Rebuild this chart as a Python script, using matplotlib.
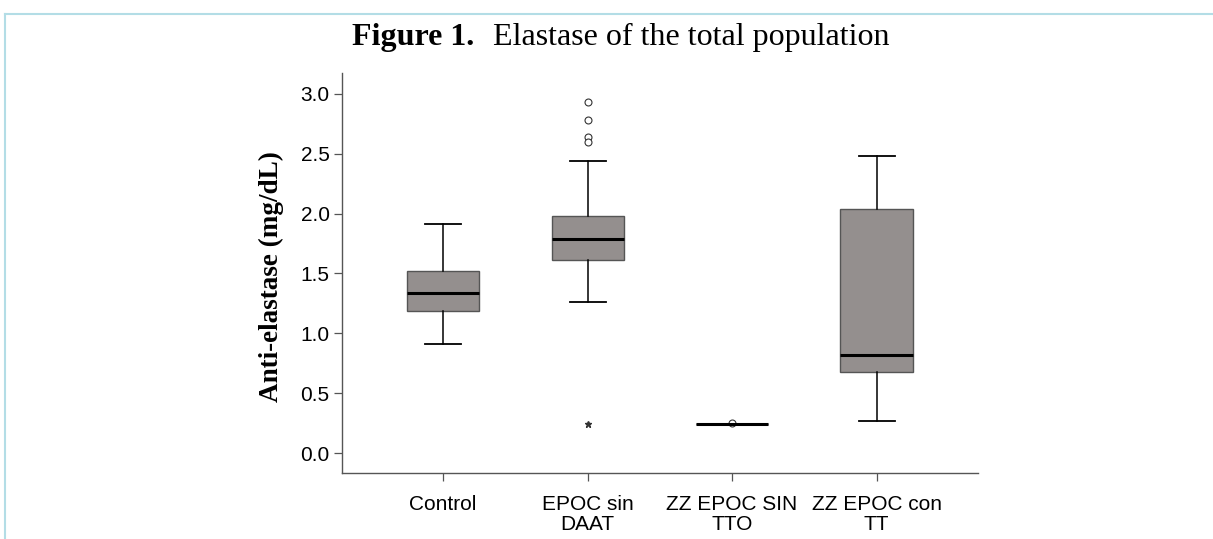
import numpy as np
import matplotlib.pyplot as plt
from matplotlib.lines import Line2D

# ---------------------------------------------------------------- data
groups = ['Control', 'EPOC sin\nDAAT', 'ZZ EPOC SIN\nTTO', 'ZZ EPOC con\nTT']
q1 = [1.19, 1.61, 0.24, 0.68]
med = [1.34, 1.79, 0.24, 0.82]
q3 = [1.52, 1.98, 0.245, 2.04]
wlo = [0.91, 1.26, 0.24, 0.265]
whi = [1.91, 2.44, 0.245, 2.48]
outliers = [[], [2.93, 2.78, 2.64, 2.60], [0.25], []]
extreme_x = [2]
extreme_y = [0.24]
yticks = [0.0, 0.5, 1.0, 1.5, 2.0, 2.5, 3.0]

# ---------------------------------------------------------------- plot
fig = plt.figure(figsize=(12.13, 5.39), dpi=100)
ax = fig.add_axes([0.282, 0.1224, 0.524, 0.7422])

stats = []
for i in range(len(groups)):
    stats.append(dict(q1=q1[i], med=med[i], q3=q3[i], whislo=wlo[i], whishi=whi[i],
                      fliers=outliers[i], label=groups[i]))

ax.bxp(stats, positions=np.arange(1, 5), widths=0.5, patch_artist=True,
       boxprops=dict(facecolor='#948f8e', edgecolor='#555555', linewidth=1.0),
       medianprops=dict(color='black', linewidth=2.2),
       whiskerprops=dict(color='black', linewidth=1.1),
       capprops=dict(color='black', linewidth=1.3),
       capwidths=0.25,
       flierprops=dict(marker='o', markersize=5, markerfacecolor='white',
                       markeredgecolor='#333333', markeredgewidth=0.8, linestyle='none'))
ax.plot(extreme_x, extreme_y, linestyle='none', marker='*', markersize=5,
        color='#333333')

ax.set_xlim(0.3, 4.7)
ax.set_ylim(-0.167, 3.175)
ax.set_yticks(yticks)
ax.set_yticklabels(['%.1f' % v for v in yticks], fontfamily='Liberation Sans', fontsize=15)
ax.set_xticklabels(groups, fontfamily='Liberation Sans', fontsize=15, linespacing=1.05)
ax.tick_params(axis='y', direction='out', length=6, width=0.9, color='#555555', pad=3)
ax.tick_params(axis='x', direction='out', length=6, width=0.9, color='#555555', pad=10)

for s in ['top', 'right']:
    ax.spines[s].set_visible(False)
for s in ['left', 'bottom']:
    ax.spines[s].set_color('#555555')
    ax.spines[s].set_linewidth(1.0)

ax.set_ylabel('Anti-elastase (mg/dL)', fontfamily='Liberation Serif', fontweight='bold',
              fontsize=19.5, va='center')
ax.yaxis.set_label_coords(-0.1116, 0.49)

fig.text(0.3908, 0.9165, 'Figure 1.', ha='right', va='baseline', fontfamily='Liberation Serif',
         fontweight='bold', fontsize=23)
fig.text(0.4064, 0.9165, 'Elastase of the total population', ha='left', va='baseline',
         fontfamily='Liberation Serif', fontsize=23)

# light blue frame
fig.add_artist(Line2D([5 / 1213, 1.0], [1 - 14 / 539, 1 - 14 / 539], color='#b3dde6', linewidth=1.5))
fig.add_artist(Line2D([5 / 1213, 5 / 1213], [0.0, 1 - 14 / 539], color='#b3dde6', linewidth=1.5))

plt.savefig('out.png', dpi=100)
